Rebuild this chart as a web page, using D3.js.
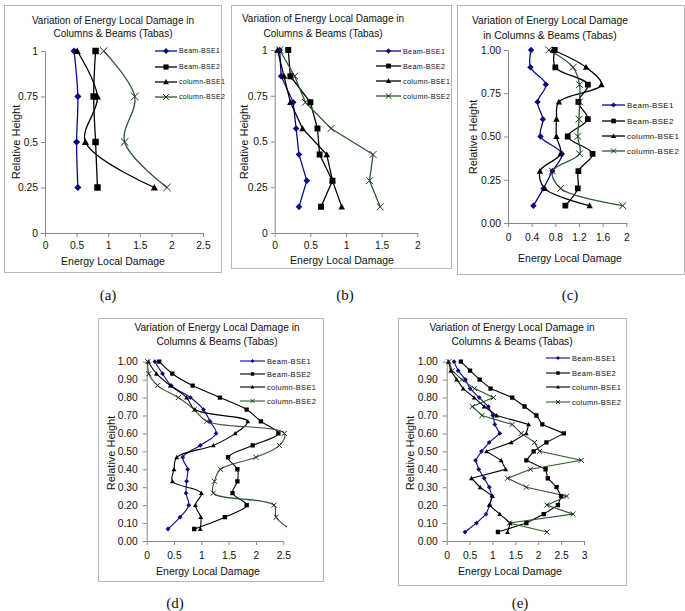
<!DOCTYPE html>
<html><head><meta charset="utf-8">
<script src="https://cdn.jsdelivr.net/npm/d3@7"></script>
<style>
body{margin:0;background:#fff}
svg{display:block}
text{font-family:"Liberation Sans",Arial,sans-serif;fill:#111}
.plab{font-family:"Liberation Serif","Times New Roman",serif;font-size:15px}
</style>
</head><body>
<svg id="chart" width="685" height="611"></svg>
<script>
// ---------- data ----------
const seriesNames = ["Beam-BSE1", "Beam-BSE2", "column-BSE1", "column-BSE2"];
const titleLines = ["Variation of Energy Local Damage in", "Columns & Beams (Tabas)"];
const titleLinesC = ["Variation of  Energy Local Damage", "in Columns & Beams (Tabas)"];
const xTitle = "Energy Local Damage";
const yTitle = "Relative Height";
const panelLabels = ["(a)", "(b)", "(c)", "(d)", "(e)"];

// (a)
const heightsA = [1, 0.75, 0.5, 0.25];
const beamBSE1A = [0.46, 0.52, 0.50, 0.52];
const beamBSE2A = [0.80, 0.77, 0.80, 0.83];
const columnBSE1A = [0.51, 0.83, 0.64, 1.73];
const columnBSE2A = [0.93, 1.42, 1.26, 1.93];
const xTicksA = [0, 0.5, 1, 1.5, 2, 2.5];
const yTicksA = [0, 0.25, 0.5, 0.75, 1];
const yTickLabelsA = ["0", "0.25", "0.5", "0.75", "1"];

// (b)
const heightsB = [1, 0.857, 0.714, 0.571, 0.429, 0.286, 0.143];
const beamBSE1B = [0.07, 0.09, 0.26, 0.30, 0.34, 0.45, 0.34];
const beamBSE2B = [0.19, 0.22, 0.50, 0.60, 0.63, 0.81, 0.65];
const columnBSE1B = [0.04, 0.13, 0.22, 0.39, 0.73, 0.81, 0.94];
const columnBSE2B = [0.07, 0.28, 0.43, 0.79, 1.38, 1.33, 1.48];
const xTicksB = [0, 0.5, 1, 1.5, 2];
const yTicksB = [0, 0.25, 0.5, 0.75, 1];
const yTickLabelsB = ["0", "0.25", "0.5", "0.75", "1"];

// (c)
const heightsC = [1.0, 0.9, 0.8, 0.7, 0.6, 0.5, 0.4, 0.3, 0.2, 0.1];
const beamBSE1C = [0.39, 0.38, 0.64, 0.50, 0.59, 0.55, 0.91, 0.75, 0.60, 0.43];
const beamBSE2C = [0.79, 0.80, 1.35, 1.19, 1.35, 1.01, 1.43, 1.19, 1.18, 0.97];
const columnBSE1C = [0.76, 1.32, 1.58, 0.86, 0.82, 0.82, 0.89, 0.54, 0.62, 1.38];
const columnBSE2C = [0.69, 1.10, 1.21, 1.21, 1.20, 1.18, 1.21, 0.75, 0.89, 1.94];
const xTicksC = [0, 0.4, 0.8, 1.2, 1.6, 2];
const xTickLabelsC = ["0", "0.4", "0.8", "1.2", "1.6", "2"];
const yTicksC = [0, 0.25, 0.5, 0.75, 1];
const yTickLabelsC = ["0.00", "0.25", "0.50", "0.75", "1.00"];

// (d)
const heightsD = [1.000, 0.933, 0.867, 0.800, 0.733, 0.667, 0.600, 0.533, 0.467, 0.400, 0.333, 0.267, 0.200, 0.133, 0.067];
const beamBSE1D = [0.15, 0.29, 0.45, 0.80, 1.04, 1.16, 1.27, 0.98, 0.66, 0.75, 0.73, 0.72, 0.77, 0.61, 0.39];
const beamBSE2D = [0.23, 0.47, 0.84, 1.34, 1.83, 2.09, 2.41, 1.94, 1.49, 1.66, 1.66, 1.57, 1.83, 1.43, 0.87];
const columnBSE1D = [0.03, 0.18, 0.43, 0.73, 0.88, 1.85, 1.62, 1.22, 0.55, 0.50, 0.47, 1.00, 0.89, 0.99, 0.98];
const columnBSE2D = [0.02, 0.04, 0.20, 0.58, 0.87, 1.10, 2.52, 2.43, 2.00, 1.35, 1.24, 1.22, 2.33, 2.37, 2.62];
const xTicksD = [0, 0.5, 1, 1.5, 2, 2.5];
const yTicksD = [0, 0.1, 0.2, 0.3, 0.4, 0.5, 0.6, 0.7, 0.8, 0.9, 1.0];
const yTickLabelsD = ["0.00", "0.10", "0.20", "0.30", "0.40", "0.50", "0.60", "0.70", "0.80", "0.90", "1.00"];

// (e)
const heightsE = [1.00, 0.95, 0.90, 0.85, 0.80, 0.75, 0.70, 0.65, 0.60, 0.55, 0.50, 0.45, 0.40, 0.35, 0.30, 0.25, 0.20, 0.15, 0.10, 0.05];
const beamBSE1E = [0.16, 0.25, 0.41, 0.51, 0.71, 0.91, 1.01, 1.05, 1.16, 0.93, 0.76, 0.63, 0.70, 0.82, 0.93, 0.99, 0.94, 0.86, 0.65, 0.40];
const beamBSE2E = [0.31, 0.51, 0.72, 0.96, 1.43, 1.70, 1.96, 2.09, 2.56, 2.18, 1.90, 1.74, 2.16, 2.21, 2.40, 2.50, 2.43, 2.12, 1.74, 1.12];
const columnBSE1E = [0.04, 0.09, 0.22, 0.36, 0.60, 0.82, 1.09, 1.79, 1.74, 1.41, 0.87, 1.19, 1.29, 0.54, 0.73, 1.00, 0.93, 1.16, 1.39, 1.33];
const columnBSE2E = [0.05, 0.12, 0.33, 0.61, 1.02, 0.56, 0.77, 1.43, 1.63, 1.92, 2.03, 2.94, 1.83, 1.33, 1.74, 2.62, 2.19, 2.76, 1.37, 2.19];
const xTicksE = [0, 0.5, 1, 1.5, 2, 2.5, 3];
const yTicksE = yTicksD;
const yTickLabelsE = yTickLabelsD;

// ---------- styles / layout ----------
const colors = ["#0a0a82", "#000000", "#000000", "#2c5a2c"];
const markerTypes = ["diamond", "square", "triangle", "x"];

function markerPath(type, s) {
  const p = d3.path();
  if (type === "diamond") { p.moveTo(0, -s); p.lineTo(s, 0); p.lineTo(0, s); p.lineTo(-s, 0); p.closePath(); }
  else if (type === "square") { p.rect(-s * 0.9, -s * 0.9, s * 1.8, s * 1.8); }
  else if (type === "triangle") { p.moveTo(0, -s); p.lineTo(s, s * 0.8); p.lineTo(-s, s * 0.8); p.closePath(); }
  else { p.moveTo(-s, -s); p.lineTo(s, s); p.moveTo(-s, s); p.lineTo(s, -s); }
  return p.toString();
}

const panels = [
  { label: panelLabels[0], labelPos: [108, 300], box: [4, 5, 221, 272], title: titleLines, titleX: 113, titleY: [24, 37], fs: 10,
    x: [0, 2.5, 45, 203], y: [0, 1, 233, 51], xTicks: xTicksA, xLabels: xTicksA.map(String), yTicks: yTicksA, yLabels: yTickLabelsA,
    heights: heightsA, series: [beamBSE1A, beamBSE2A, columnBSE1A, columnBSE2A], smooth: true, ms: 3.6, lw: 1.3,
    xTitlePos: [113, 265], yTitlePos: [16, 142], xPad: 7, yPad: 3,
    legend: { x1: 155, x2: 177, tx: 179, rows: [51, 67, 82, 97], fs: 7 } },
  { label: panelLabels[1], labelPos: [345, 300], box: [231, 5, 451, 268], title: titleLines, titleX: 323, titleY: [22, 37], fs: 10,
    x: [0, 2, 274.7, 417.3], y: [0, 1, 233, 50], xTicks: xTicksB, xLabels: xTicksB.map(String), yTicks: yTicksB, yLabels: yTickLabelsB,
    heights: heightsB, series: [beamBSE1B, beamBSE2B, columnBSE1B, columnBSE2B], smooth: false, ms: 3.3, lw: 1.3,
    xTitlePos: [342, 264], yTitlePos: [244, 142], xPad: 7, yPad: 3,
    legend: { x1: 376, x2: 401, tx: 403, rows: [51, 66, 81, 96], fs: 7.2 } },
  { label: panelLabels[2], labelPos: [570, 300], box: [457, 5, 684, 274], title: titleLinesC, titleX: 550, titleY: [24, 39], fs: 10.3,
    x: [0, 2, 508, 626.3], y: [0, 1, 223, 50], xTicks: xTicksC, xLabels: xTickLabelsC, yTicks: yTicksC, yLabels: yTickLabelsC,
    heights: heightsC, series: [beamBSE1C, beamBSE2C, columnBSE1C, columnBSE2C], smooth: true, ms: 3.2, lw: 1.3,
    xTitlePos: [570, 262], yTitlePos: [473, 137], xPad: 9, yPad: 3,
    legend: { x1: 602, x2: 625, tx: 627, rows: [105, 121, 136, 151], fs: 8 } },
  { label: panelLabels[3], labelPos: [175, 608], box: [98, 318, 323, 581], title: titleLines, titleX: 217, titleY: [331, 345], fs: 10.2,
    x: [0, 2.5, 146.7, 283.3], y: [0, 1, 541, 361.7], xTicks: xTicksD, xLabels: xTicksD.map(String), yTicks: yTicksD, yLabels: yTickLabelsD,
    heights: heightsD, series: [beamBSE1D, beamBSE2D, columnBSE1D, columnBSE2D], smooth: true, ms: 2.4, lw: 1.1,
    xTitlePos: [208, 575], yTitlePos: [111, 453], xPad: 9, yPad: 5, clipRight: 287,
    legend: { x1: 240, x2: 265, tx: 267, rows: [361, 374, 387, 401], fs: 7.5 } },
  { label: panelLabels[4], labelPos: [520, 608], box: [398, 318, 626, 585], title: titleLines, titleX: 512, titleY: [331, 345], fs: 10.2,
    x: [0, 3, 446.7, 584], y: [0, 1, 541, 361.7], xTicks: xTicksE, xLabels: xTicksE.map(String), yTicks: yTicksE, yLabels: yTickLabelsE,
    heights: heightsE, series: [beamBSE1E, beamBSE2E, columnBSE1E, columnBSE2E], smooth: false, ms: 2.4, lw: 1.1,
    xTitlePos: [510, 575], yTitlePos: [410, 453], xPad: 9, yPad: 5,
    legend: { x1: 546, x2: 570, tx: 572, rows: [358, 373, 387, 402], fs: 7.5 } }
];

const svg = d3.select("#chart");
svg.append("rect").attr("width", 685).attr("height", 611).attr("fill", "#fff");

panels.forEach((P, pi) => {
  const g = svg.append("g");
  const [bx1, by1, bx2, by2] = P.box;
  g.append("rect").attr("x", bx1 + 0.5).attr("y", by1 + 0.5).attr("width", bx2 - bx1).attr("height", by2 - by1)
    .attr("fill", "#fff").attr("stroke", "#b8b8b8").attr("stroke-width", 1);

  // title
  P.title.forEach((t, i) => {
    g.append("text").attr("x", P.titleX).attr("y", P.titleY[i]).attr("text-anchor", "middle")
      .style("font-size", P.fs + "px").text(t);
  });

  const x = d3.scaleLinear().domain([P.x[0], P.x[1]]).range([P.x[2], P.x[3]]);
  const y = d3.scaleLinear().domain([P.y[0], P.y[1]]).range([P.y[2], P.y[3]]);

  const xAxis = d3.axisBottom(x).tickValues(P.xTicks).tickFormat((d, i) => P.xLabels[i]).tickSize(4).tickSizeOuter(0).tickPadding(P.xPad - 4 + 2);
  const yAxis = d3.axisLeft(y).tickValues(P.yTicks).tickFormat((d, i) => P.yLabels[i]).tickSize(4).tickSizeOuter(0).tickPadding(P.yPad);

  const gx = g.append("g").attr("transform", `translate(0,${P.y[2]})`).call(xAxis);
  const gy = g.append("g").attr("transform", `translate(${P.x[2]},0)`).call(yAxis);
  [gx, gy].forEach(a => {
    a.select(".domain").attr("stroke", "#888");
    a.selectAll(".tick line").attr("stroke", "#888");
    a.selectAll(".tick text").style("font-size", "10.3px").style("font-family", '"Liberation Sans",Arial,sans-serif').attr("fill", "#111");
  });

  g.append("text").attr("x", P.xTitlePos[0]).attr("y", P.xTitlePos[1]).attr("text-anchor", "middle")
    .style("font-size", "10.5px").text(xTitle);
  g.append("text").attr("transform", `translate(${P.yTitlePos[0]},${P.yTitlePos[1]}) rotate(-90)`).attr("text-anchor", "middle")
    .attr("dy", "0.35em").style("font-size", "11px").text(yTitle);

  // clip
  const clipId = "clip" + pi;
  const right = P.clipRight || (P.x[3] + 20);
  g.append("clipPath").attr("id", clipId).append("rect")
    .attr("x", P.x[2] - 10).attr("y", P.y[3] - 10).attr("width", right - P.x[2] + 10).attr("height", P.y[2] - P.y[3] + 20);

  const line = d3.line().x(d => x(d[0])).y(d => y(d[1]))
    .curve(P.smooth ? d3.curveCatmullRom.alpha(0.5) : d3.curveLinear);

  const plot = g.append("g").attr("clip-path", `url(#${clipId})`);
  P.series.forEach((vals, si) => {
    const pts = vals.map((v, i) => [v, P.heights[i]]);
    plot.append("path").attr("d", line(pts)).attr("fill", "none").attr("stroke", colors[si]).attr("stroke-width", P.lw);
  });
  P.series.forEach((vals, si) => {
    const pts = vals.map((v, i) => [v, P.heights[i]]);
    plot.selectAll(null).data(pts).enter().append("path")
      .attr("transform", d => `translate(${x(d[0])},${y(d[1])})`)
      .attr("d", markerPath(markerTypes[si], markerTypes[si] === "x" ? P.ms * 1.05 : P.ms))
      .attr("fill", markerTypes[si] === "x" ? "none" : colors[si])
      .attr("stroke", markerTypes[si] === "x" ? "#1e2e1e" : "none")
      .attr("stroke-width", 1);
  });

  // legend
  const L = P.legend;
  seriesNames.forEach((name, si) => {
    const ly = L.rows[si];
    g.append("line").attr("x1", L.x1).attr("x2", L.x2).attr("y1", ly).attr("y2", ly)
      .attr("stroke", colors[si]).attr("stroke-width", P.lw);
    g.append("path").attr("transform", `translate(${(L.x1 + L.x2) / 2},${ly})`)
      .attr("d", markerPath(markerTypes[si], P.ms * 0.8))
      .attr("fill", markerTypes[si] === "x" ? "none" : colors[si])
      .attr("stroke", markerTypes[si] === "x" ? "#1e2e1e" : "none").attr("stroke-width", 1);
    g.append("text").attr("x", L.tx).attr("y", ly).attr("dy", "0.35em")
      .style("font-size", L.fs + "px").style("letter-spacing", "0.3px").text(name);
  });

  svg.append("text").attr("class", "plab").attr("x", P.labelPos[0]).attr("y", P.labelPos[1])
    .attr("text-anchor", "middle").text(P.label);
});
</script>
</body></html>
